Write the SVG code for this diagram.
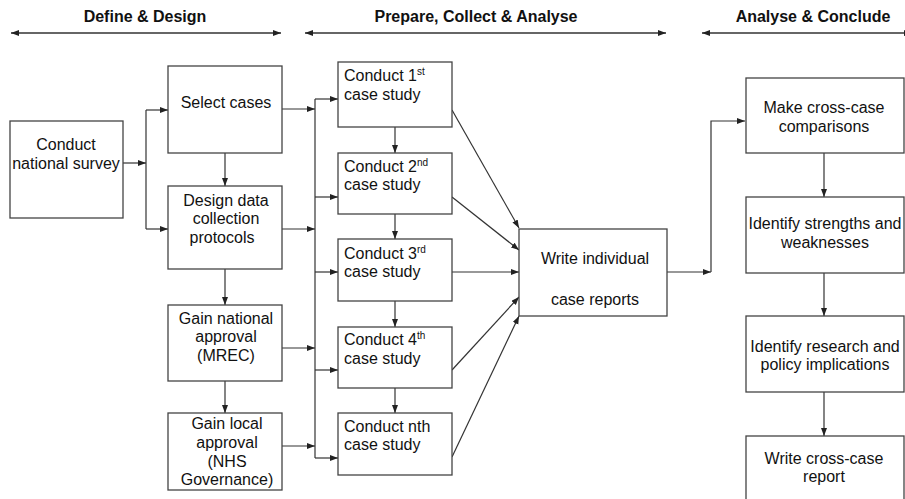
<svg xmlns="http://www.w3.org/2000/svg" width="905" height="499" viewBox="0 0 905 499">
<defs>
<marker id="ah" markerUnits="userSpaceOnUse" markerWidth="9" markerHeight="7" refX="8" refY="3" orient="auto-start-reverse">
<path d="M0,0 L8,3 L0,6 z" fill="#222"/>
</marker>
<style>
.box{fill:#fff;stroke:#444;stroke-width:1.3}
.t{font-family:"Liberation Sans",Arial,sans-serif;font-size:16px;fill:#111}
.c{text-anchor:middle}
.h{font-family:"Liberation Sans",Arial,sans-serif;font-size:16px;font-weight:bold;fill:#111;text-anchor:middle}
.sup{font-size:10px}
.ln{fill:none;stroke:#333;stroke-width:1.2}
.ar{fill:none;stroke:#333;stroke-width:1.2;marker-end:url(#ah)}
.dbl{fill:none;stroke:#333;stroke-width:1.5;marker-start:url(#ah);marker-end:url(#ah)}
</style>
</defs>
<rect width="905" height="499" fill="#fff"/>
<g id="headers">
<text class="h" x="145" y="22">Define &amp; Design</text>
<text class="h" x="476" y="22">Prepare, Collect &amp; Analyse</text>
<text class="h" x="813" y="22">Analyse &amp; Conclude</text>
<line class="dbl" x1="11" y1="33" x2="281" y2="33"/>
<line class="dbl" x1="305" y1="33" x2="666" y2="33"/>
<line class="dbl" x1="702" y1="33" x2="912" y2="33"/>
</g>
<g id="connectors">
<line class="ar" x1="123" y1="163" x2="146" y2="163"/>
<line class="ln" x1="146" y1="110" x2="146" y2="229"/>
<line class="ar" x1="146" y1="110" x2="168" y2="110"/>
<line class="ar" x1="146" y1="229" x2="168" y2="229"/>
<line class="ar" x1="225" y1="153" x2="225" y2="186"/>
<line class="ar" x1="225" y1="269" x2="225" y2="305"/>
<line class="ar" x1="225" y1="381" x2="225" y2="413"/>
<line class="ar" x1="282" y1="109" x2="315" y2="109"/>
<line class="ar" x1="282" y1="229" x2="315" y2="229"/>
<line class="ar" x1="282" y1="348" x2="315" y2="348"/>
<line class="ar" x1="282" y1="446" x2="315" y2="446"/>
<line class="ln" x1="315" y1="99" x2="315" y2="458"/>
<line class="ar" x1="315" y1="99" x2="338" y2="99"/>
<line class="ar" x1="315" y1="197" x2="338" y2="197"/>
<line class="ar" x1="315" y1="272" x2="338" y2="272"/>
<line class="ar" x1="315" y1="370" x2="338" y2="370"/>
<line class="ar" x1="315" y1="458" x2="338" y2="458"/>
<line class="ar" x1="395" y1="127" x2="395" y2="153"/>
<line class="ar" x1="395" y1="214" x2="395" y2="239"/>
<line class="ar" x1="395" y1="301" x2="395" y2="327"/>
<line class="ar" x1="395" y1="388" x2="395" y2="413"/>
<line class="ar" x1="452" y1="110" x2="519" y2="228"/>
<line class="ar" x1="452" y1="197" x2="519" y2="250"/>
<line class="ar" x1="452" y1="272" x2="519" y2="272"/>
<line class="ar" x1="452" y1="370" x2="519" y2="297"/>
<line class="ar" x1="452" y1="457" x2="519" y2="316"/>
<line class="ar" x1="667" y1="272" x2="711" y2="272"/>
<polyline class="ar" points="711,272 711,121 745,121"/>
<line class="ar" x1="824" y1="153" x2="824" y2="197"/>
<line class="ar" x1="824" y1="273" x2="824" y2="316"/>
<line class="ar" x1="824" y1="392" x2="824" y2="436"/>
</g>
<g id="survey">
<rect class="box" x="10" y="121" width="113" height="97"/>
<text class="t c" x="66" y="150">Conduct</text>
<text class="t c" x="66" y="169">national survey</text>
</g>
<g id="select">
<rect class="box" x="168" y="66" width="114" height="87"/>
<text class="t c" x="226" y="108">Select cases</text>
</g>
<g id="design">
<rect class="box" x="168" y="186" width="114" height="83"/>
<text class="t c" x="226" y="206">Design data</text>
<text class="t c" x="226" y="224">collection</text>
<text class="t c" x="222" y="243">protocols</text>
</g>
<g id="national">
<rect class="box" x="168" y="305" width="114" height="76"/>
<text class="t c" x="226" y="324">Gain national</text>
<text class="t c" x="226" y="342">approval</text>
<text class="t c" x="226" y="361">(MREC)</text>
</g>
<g id="local">
<rect class="box" x="168" y="413" width="114" height="77"/>
<text class="t c" x="227" y="429">Gain local</text>
<text class="t c" x="227" y="448">approval</text>
<text class="t c" x="227" y="467">(NHS</text>
<text class="t c" x="227" y="485">Governance)</text>
</g>
<g id="c1">
<rect class="box" x="338" y="62" width="114" height="65"/>
<text class="t" x="344" y="81">Conduct 1<tspan class="sup" dy="-6">st</tspan></text>
<text class="t" x="344" y="100">case study</text>
</g>
<g id="c2">
<rect class="box" x="338" y="153" width="114" height="61"/>
<text class="t" x="344" y="172">Conduct 2<tspan class="sup" dy="-6">nd</tspan></text>
<text class="t" x="344" y="190">case study</text>
</g>
<g id="c3">
<rect class="box" x="338" y="239" width="114" height="62"/>
<text class="t" x="344" y="259">Conduct 3<tspan class="sup" dy="-6">rd</tspan></text>
<text class="t" x="344" y="277">case study</text>
</g>
<g id="c4">
<rect class="box" x="338" y="327" width="114" height="61"/>
<text class="t" x="344" y="345">Conduct 4<tspan class="sup" dy="-6">th</tspan></text>
<text class="t" x="344" y="364">case study</text>
</g>
<g id="cn">
<rect class="box" x="338" y="413" width="114" height="62"/>
<text class="t" x="344" y="432">Conduct nth</text>
<text class="t" x="344" y="450">case study</text>
</g>
<g id="write">
<rect class="box" x="519" y="229" width="148" height="87"/>
<text class="t c" x="595" y="264">Write individual</text>
<text class="t c" x="595" y="305">case reports</text>
</g>
<g id="compare">
<rect class="box" x="746" y="78" width="158" height="75"/>
<text class="t c" x="824" y="113">Make cross-case</text>
<text class="t c" x="824" y="132">comparisons</text>
</g>
<g id="strengths">
<rect class="box" x="746" y="197" width="158" height="76"/>
<text class="t c" x="825" y="229">Identify strengths and</text>
<text class="t c" x="825" y="248">weaknesses</text>
</g>
<g id="implications">
<rect class="box" x="746" y="316" width="158" height="76"/>
<text class="t c" x="825" y="352">Identify research and</text>
<text class="t c" x="825" y="370">policy implications</text>
</g>
<g id="report">
<rect class="box" x="746" y="436" width="158" height="70"/>
<text class="t c" x="824" y="464">Write cross-case</text>
<text class="t c" x="824" y="482">report</text>
</g>
</svg>
